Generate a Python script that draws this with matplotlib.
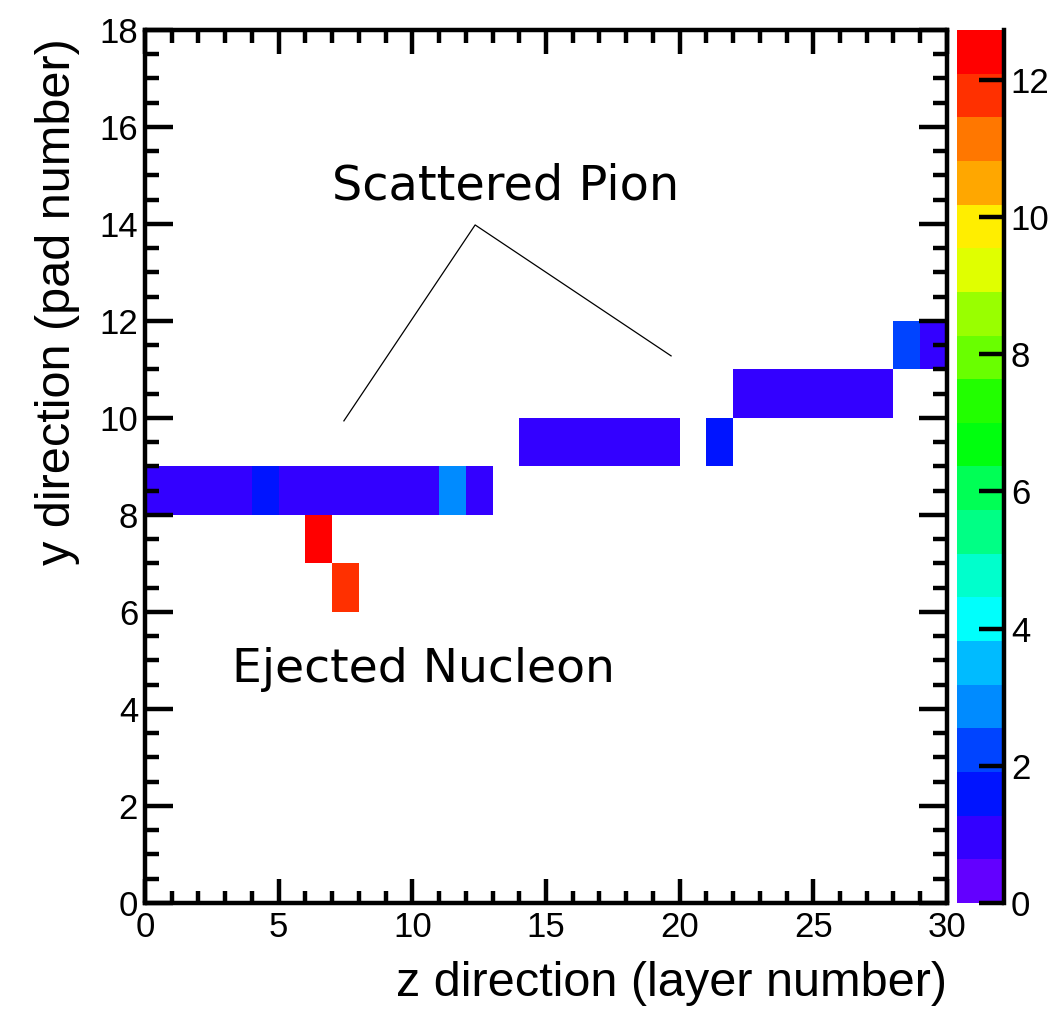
import colorsys

import matplotlib
matplotlib.use("Agg")
import matplotlib.pyplot as plt
import numpy as np
from matplotlib.colors import BoundaryNorm, ListedColormap
from matplotlib.ticker import MultipleLocator

# hit cells: layer (z), pad (y), deposited value
hit_z = [0, 1, 2, 3, 4, 5, 6, 7, 8, 9, 10, 11, 12,
         14, 15, 16, 17, 18, 19, 21,
         22, 23, 24, 25, 26, 27,
         28, 29,
         6, 7]
hit_y = [8, 8, 8, 8, 8, 8, 8, 8, 8, 8, 8, 8, 8,
         9, 9, 9, 9, 9, 9, 9,
         10, 10, 10, 10, 10, 10,
         11, 11,
         7, 6]
hit_e = [1.0, 1.0, 1.0, 1.0, 1.6, 1.0, 1.0, 1.0, 1.0, 1.0, 1.0, 2.9, 1.0,
         1.0, 1.0, 1.0, 1.0, 1.0, 1.0, 1.6,
         1.0, 1.0, 1.0, 1.0, 1.0, 1.0,
         2.2, 1.0,
         12.73, 11.8]

n_layers, n_pads = 30, 18
n_levels = 20

# old ROOT rainbow palette (50 colours) sampled for 20 contour levels
pal = []
for i in range(50):
    hue = 280.0 - (i + 1) * (280.0 / 50)
    pal.append(colorsys.hls_to_rgb(hue / 360.0, 0.5, 1.0))
cmap = ListedColormap([pal[int((k + 0.99) * 50 / n_levels)] for k in range(n_levels)])

grid, zedges, yedges = np.histogram2d(hit_z, hit_y, bins=[n_layers, n_pads],
                                      range=[[0, n_layers], [0, n_pads]],
                                      weights=hit_e)
grid = np.ma.masked_equal(grid, 0)
zmax = max(hit_e)
norm = BoundaryNorm(np.linspace(0, zmax, n_levels + 1), n_levels)

fig = plt.figure(figsize=(10.53, 10.09), dpi=100)
ax = fig.add_axes([0.1377, 0.1051, 0.7616, 0.8652])
cax = fig.add_axes([0.9088, 0.1051, 0.0446, 0.8652])

mesh = ax.pcolormesh(zedges, yedges, grid.T, cmap=cmap, norm=norm)

tick_font = "Liberation Sans"
ax.set_xlim(0, n_layers)
ax.set_ylim(0, n_pads)
ax.xaxis.set_major_locator(MultipleLocator(5))
ax.xaxis.set_minor_locator(MultipleLocator(1))
ax.yaxis.set_major_locator(MultipleLocator(2))
ax.yaxis.set_minor_locator(MultipleLocator(0.5))
ax.tick_params(which="both", direction="in", top=True, right=True, width=3.2,
               labelsize=25)
ax.tick_params(axis="x", which="major", length=17, pad=6)
ax.tick_params(axis="x", which="minor", length=9)
ax.tick_params(axis="y", which="major", length=20, pad=5)
ax.tick_params(axis="y", which="minor", length=10)
for s in ax.spines.values():
    s.set_linewidth(3.2)
for lab in ax.get_xticklabels() + ax.get_yticklabels():
    lab.set_fontfamily(tick_font)

ax.set_xlabel("z direction (layer number)", fontsize=35, family=tick_font,
              loc="right", labelpad=12)
ax.set_ylabel("y direction (pad number)", fontsize=35, family=tick_font,
              loc="top", labelpad=14)
ax.yaxis.label.set_y(0.99)

# annotations
ax.text(7.0, 14.5, "Scattered Pion", fontsize=34.5, family="DejaVu Sans")
ax.plot([7.44, 12.35, 19.68], [9.94, 13.98, 11.28], color="black", lw=0.9)
ax.text(3.25, 4.56, "Ejected Nucleon", fontsize=34, family="DejaVu Sans")

# colour scale
cbar = fig.colorbar(mesh, cax=cax, ticks=[0, 2, 4, 6, 8, 10, 12])
cbar.outline.set_visible(False)
cax.plot([1, 1], [0, 1], transform=cax.transAxes, color="black", lw=3.2,
         clip_on=False)
cax.yaxis.set_ticks_position("right")
cax.tick_params(direction="in", length=18, width=3.2, labelsize=25, pad=5)
cax.minorticks_off()
for lab in cax.get_yticklabels():
    lab.set_fontfamily(tick_font)

fig.savefig("out.png", dpi=100)
